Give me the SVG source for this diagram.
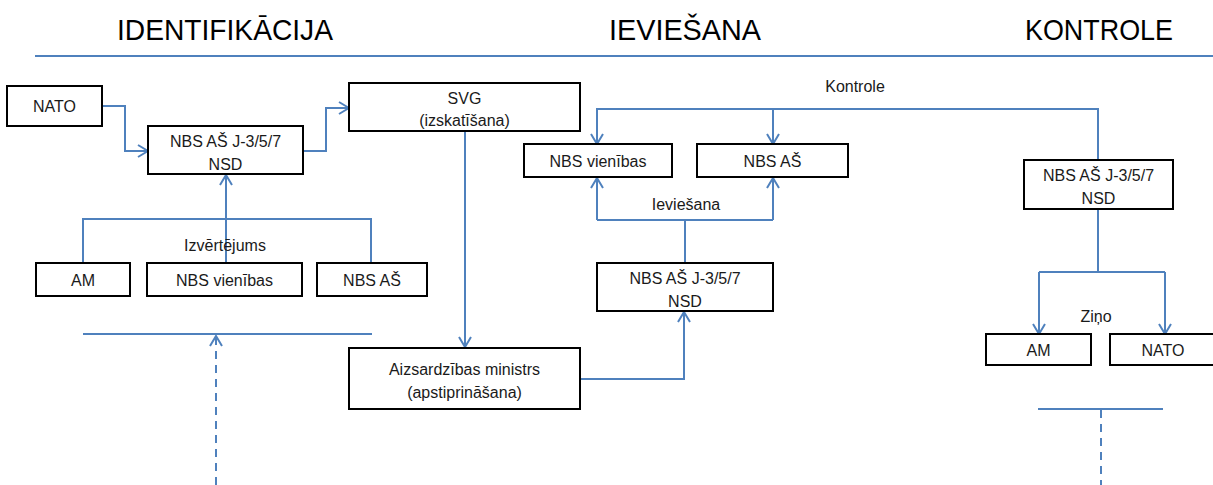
<svg xmlns="http://www.w3.org/2000/svg" width="1213" height="485" viewBox="0 0 1213 485">
<style>
.box{fill:#fff;stroke:#000;stroke-width:2}
.t{font-family:"Liberation Sans",Arial,sans-serif;font-size:16px;fill:#1a1a1a;text-anchor:middle}
.title{font-family:"Liberation Sans",Arial,sans-serif;font-size:30px;fill:#000;text-anchor:middle}
.c{fill:none;stroke:#4F81BD;stroke-width:2}
.d{stroke-dasharray:8 6}
</style>
<defs>
<marker id="a" viewBox="0 0 12 14" refX="11" refY="7" markerWidth="12" markerHeight="14" markerUnits="userSpaceOnUse" orient="auto">
<path d="M1,1 L11,7 L1,13" fill="none" stroke="#4F81BD" stroke-width="2"/>
</marker>
</defs>
<g id="titles">
<text class="title" x="225" y="40" textLength="216" lengthAdjust="spacingAndGlyphs">IDENTIFIKĀCIJA</text>
<text class="title" x="685" y="40" textLength="152" lengthAdjust="spacingAndGlyphs">IEVIEŠANA</text>
<text class="title" x="1099" y="40" textLength="148" lengthAdjust="spacingAndGlyphs">KONTROLE</text>
</g>
<g id="connectors">
<path class="c" d="M35,56 H1213"/>
<path class="c" d="M102,106 H125 V151 H148" marker-end="url(#a)"/>
<path class="c" d="M303,151 H326 V108 H349" marker-end="url(#a)"/>
<path class="c" d="M83,263 V219 H371 V263"/>
<path class="c" d="M226,263 V175" marker-end="url(#a)"/>
<path class="c" d="M465,131 V347" marker-end="url(#a)"/>
<path class="c" d="M580,379 H684 V312" marker-end="url(#a)"/>
<path class="c" d="M685,263 V220"/>
<path class="c" d="M597,220 H773"/>
<path class="c" d="M597,220 V178" marker-end="url(#a)"/>
<path class="c" d="M773,220 V178" marker-end="url(#a)"/>
<path class="c" d="M1098,160 V109 H597 V144" marker-end="url(#a)"/>
<path class="c" d="M773,109 V144" marker-end="url(#a)"/>
<path class="c" d="M1098,209 V272"/>
<path class="c" d="M1039,272 H1165"/>
<path class="c" d="M1039,272 V334" marker-end="url(#a)"/>
<path class="c" d="M1165,272 V334" marker-end="url(#a)"/>
<path class="c" d="M83,334 H372"/>
<path class="c" d="M1038,409 H1163"/>
<path class="c d" d="M216,485 V336" marker-end="url(#a)"/>
<path class="c d" d="M1101,410 V485"/>
</g>
<g id="labels">
<text class="t" x="855" y="92">Kontrole</text>
<text class="t" x="686" y="210">Ieviešana</text>
<text class="t" x="225" y="251">Izvērtējums</text>
<text class="t" x="1096" y="322">Ziņo</text>
</g>
<g id="nato-left"><rect class="box" x="7" y="86" width="95" height="40"/><text class="t" x="54.5" y="112">NATO</text></g>
<g id="nbs-j-left"><rect class="box" x="148" y="126" width="155" height="48"/><text class="t" x="225.5" y="147">NBS AŠ J-3/5/7</text><text class="t" x="225.5" y="170">NSD</text></g>
<g id="svg-node"><rect class="box" x="349" y="83" width="231" height="48"/><text class="t" x="464.5" y="104">SVG</text><text class="t" x="464.5" y="126">(izskatīšana)</text></g>
<g id="am-left"><rect class="box" x="36" y="263" width="94" height="33"/><text class="t" x="83" y="286">AM</text></g>
<g id="nbs-vien-left"><rect class="box" x="147" y="263" width="155" height="33"/><text class="t" x="224.5" y="286">NBS vienības</text></g>
<g id="nbs-as-left"><rect class="box" x="317" y="263" width="110" height="33"/><text class="t" x="372" y="286">NBS AŠ</text></g>
<g id="aizs"><rect class="box" x="349" y="348" width="231" height="61"/><text class="t" x="464.5" y="375">Aizsardzības ministrs</text><text class="t" x="464.5" y="398">(apstiprināšana)</text></g>
<g id="nbs-vien-mid"><rect class="box" x="524" y="144" width="148" height="33"/><text class="t" x="598" y="167">NBS vienības</text></g>
<g id="nbs-as-mid"><rect class="box" x="697" y="144" width="151" height="33"/><text class="t" x="772.5" y="167">NBS AŠ</text></g>
<g id="nbs-j-mid"><rect class="box" x="597" y="263" width="176" height="48"/><text class="t" x="685" y="284">NBS AŠ J-3/5/7</text><text class="t" x="685" y="307">NSD</text></g>
<g id="nbs-j-right"><rect class="box" x="1024" y="160" width="149" height="49"/><text class="t" x="1098.5" y="181">NBS AŠ J-3/5/7</text><text class="t" x="1098.5" y="204">NSD</text></g>
<g id="am-right"><rect class="box" x="986" y="334" width="105" height="31"/><text class="t" x="1038.5" y="356">AM</text></g>
<g id="nato-right"><rect class="box" x="1110" y="334" width="110" height="31"/><text class="t" x="1163" y="356">NATO</text></g>
</svg>
